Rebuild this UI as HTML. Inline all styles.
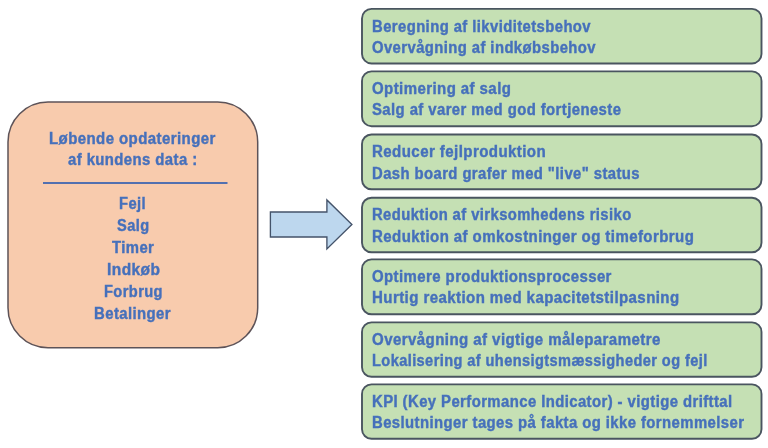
<!DOCTYPE html><html><head><meta charset="utf-8"><style>
html,body{margin:0;padding:0;background:#fff;}body{width:768px;height:448px;position:relative;overflow:hidden;filter:blur(0.3px);}
.t{position:absolute;font-family:"Liberation Sans",sans-serif;font-weight:bold;line-height:20px;white-space:pre;letter-spacing:0.45px;-webkit-text-stroke:0.4px #4670BB;color:#4670BB;transform-origin:0 0;}
.g{position:absolute;box-sizing:border-box;border:1.9px solid #4a5560;border-radius:10px;background:#C5E0B4;}
</style></head><body>
<svg width="768" height="448" style="position:absolute;left:0;top:0"><rect x="8" y="102" width="249.7" height="245.8" rx="40" ry="40" fill="#F8CBAD" stroke="#5d5358" stroke-width="1.5"/><line x1="43" y1="183" x2="227.5" y2="183" stroke="#5270B0" stroke-width="1.9"/><polygon points="270.4,212 326.9,212 326.9,199.9 351.9,224.5 326.9,249 326.9,237 270.4,237" fill="#BDD7EE" stroke="#44536a" stroke-width="1.35" stroke-linejoin="miter"/></svg>
<svg width="768" height="448" style="position:absolute;left:0;top:0"><rect x="362" y="8.9" width="399.5" height="54.55" rx="9.5" ry="9.5" fill="#C5E0B4" stroke="#4a5560" stroke-width="1.9"/><rect x="362" y="71.4" width="399.5" height="54.80" rx="9.5" ry="9.5" fill="#C5E0B4" stroke="#4a5560" stroke-width="1.9"/><rect x="362" y="134.5" width="399.5" height="54.75" rx="9.5" ry="9.5" fill="#C5E0B4" stroke="#4a5560" stroke-width="1.9"/><rect x="362" y="197.7" width="399.5" height="54.60" rx="9.5" ry="9.5" fill="#C5E0B4" stroke="#4a5560" stroke-width="1.9"/><rect x="362" y="259.4" width="399.5" height="54.85" rx="9.5" ry="9.5" fill="#C5E0B4" stroke="#4a5560" stroke-width="1.9"/><rect x="362" y="322.4" width="399.5" height="54.40" rx="9.5" ry="9.5" fill="#C5E0B4" stroke="#4a5560" stroke-width="1.9"/><rect x="362" y="384.4" width="399.5" height="54.40" rx="9.5" ry="9.5" fill="#C5E0B4" stroke="#4a5560" stroke-width="1.9"/></svg>
<div class="t" style="left:372.27px;top:16.60px;font-size:16.0px;transform:scale(0.9272,1.0)">Beregning af likviditetsbehov</div>
<div class="t" style="left:372.27px;top:37.90px;font-size:16.0px;transform:scale(0.9271,1.0)">Overvågning af indkøbsbehov</div>
<div class="t" style="left:372.26px;top:79.10px;font-size:16.0px;transform:scale(0.9377,1.0)">Optimering af salg</div>
<div class="t" style="left:372.27px;top:100.40px;font-size:16.0px;transform:scale(0.9296,1.0)">Salg af varer med god fortjeneste</div>
<div class="t" style="left:372.26px;top:142.20px;font-size:16.0px;transform:scale(0.9410,1.0)">Reducer fejlproduktion</div>
<div class="t" style="left:372.27px;top:163.50px;font-size:16.0px;transform:scale(0.9279,1.0)">Dash board grafer med &quot;live&quot; status</div>
<div class="t" style="left:372.28px;top:205.40px;font-size:16.0px;transform:scale(0.9249,1.0)">Reduktion af virksomhedens risiko</div>
<div class="t" style="left:372.26px;top:226.70px;font-size:16.0px;transform:scale(0.9387,1.0)">Reduktion af omkostninger og timeforbrug</div>
<div class="t" style="left:372.27px;top:267.10px;font-size:16.0px;transform:scale(0.9345,1.0)">Optimere produktionsprocesser</div>
<div class="t" style="left:372.26px;top:288.40px;font-size:16.0px;transform:scale(0.9394,1.0)">Hurtig reaktion med kapacitetstilpasning</div>
<div class="t" style="left:372.26px;top:330.10px;font-size:16.0px;transform:scale(0.9407,1.0)">Overvågning af vigtige måleparametre</div>
<div class="t" style="left:372.29px;top:351.40px;font-size:16.0px;transform:scale(0.9112,1.0)">Lokalisering af uhensigtsmæssigheder og fejl</div>
<div class="t" style="left:372.27px;top:392.10px;font-size:16.0px;transform:scale(0.9295,1.0)">KPI (Key Performance Indicator) - vigtige drifttal</div>
<div class="t" style="left:372.27px;top:413.40px;font-size:16.0px;transform:scale(0.9301,1.0)">Beslutninger tages på fakta og ikke fornemmelser</div>
<div class="t" style="left:48.86px;top:128.70px;font-size:16.0px;transform:scale(0.9373,1.0)">Løbende opdateringer</div>
<div class="t" style="left:68.40px;top:150.30px;font-size:16.0px;transform:scale(0.9304,1.0)">af kundens data :</div>
<div class="t" style="left:119.38px;top:193.90px;font-size:16.0px;transform:scale(0.9185,1.0)">Fejl</div>
<div class="t" style="left:116.79px;top:215.90px;font-size:16.0px;transform:scale(0.9121,1.0)">Salg</div>
<div class="t" style="left:112.20px;top:237.90px;font-size:16.0px;transform:scale(0.9289,1.0)">Timer</div>
<div class="t" style="left:106.63px;top:259.90px;font-size:16.0px;transform:scale(0.9679,1.0)">Indkøb</div>
<div class="t" style="left:103.79px;top:281.80px;font-size:16.0px;transform:scale(0.9145,1.0)">Forbrug</div>
<div class="t" style="left:94.47px;top:303.90px;font-size:16.0px;transform:scale(0.9309,1.0)">Betalinger</div>
</body></html>
